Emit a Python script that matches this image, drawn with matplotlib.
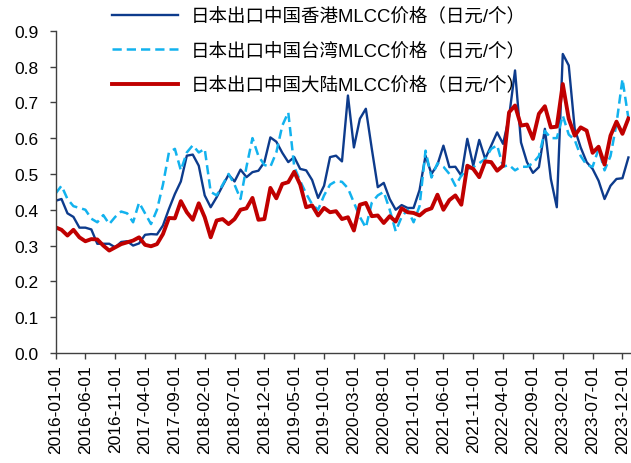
import numpy as np
import pandas as pd
import matplotlib
matplotlib.use('Agg')
import matplotlib.pyplot as plt

plt.rcParams['font.family'] = ['Liberation Sans', 'Noto Sans CJK SC', 'DejaVu Sans']

# monthly series, 2016-01 .. 2024-01 (JPY per piece)
months = pd.date_range('2016-01-01', '2024-01-01', freq='MS')

hk_price = [
    0.425, 0.430, 0.390, 0.380, 0.350, 0.350, 0.345, 0.305, 0.305, 0.305,
    0.295, 0.310, 0.312, 0.300, 0.306, 0.330, 0.332, 0.331, 0.356, 0.402,
    0.444, 0.479, 0.551, 0.554, 0.523, 0.440, 0.407, 0.435, 0.467, 0.498,
    0.479, 0.512, 0.491, 0.505, 0.509, 0.533, 0.602, 0.590, 0.559, 0.533,
    0.547, 0.514, 0.510, 0.483, 0.433, 0.467, 0.547, 0.551, 0.535, 0.719,
    0.574, 0.654, 0.682, 0.570, 0.463, 0.475, 0.430, 0.400, 0.413, 0.405,
    0.405, 0.455, 0.551, 0.500, 0.526, 0.579, 0.519, 0.520, 0.495, 0.598,
    0.523, 0.595, 0.542, 0.579, 0.616, 0.584, 0.660, 0.789, 0.588, 0.533,
    0.503, 0.519, 0.626, 0.486, 0.407, 0.835, 0.803, 0.626, 0.574, 0.533,
    0.514, 0.481, 0.430, 0.467, 0.486, 0.488, 0.546,
]

tw_price = [
    0.445, 0.467, 0.430, 0.410, 0.405, 0.400, 0.375, 0.365, 0.385, 0.360,
    0.380, 0.395, 0.390, 0.365, 0.420, 0.390, 0.360, 0.400, 0.470, 0.560,
    0.570, 0.510, 0.560, 0.580, 0.560, 0.570, 0.450, 0.440, 0.470, 0.500,
    0.470, 0.430, 0.520, 0.600, 0.550, 0.525, 0.520, 0.560, 0.635, 0.672,
    0.520, 0.480, 0.445, 0.415, 0.400, 0.440, 0.470, 0.480, 0.478, 0.460,
    0.420, 0.380, 0.350, 0.420, 0.440, 0.450, 0.400, 0.340, 0.380, 0.400,
    0.365, 0.410, 0.565, 0.490, 0.530, 0.520, 0.500, 0.467, 0.495, 0.514,
    0.519, 0.530, 0.542, 0.570, 0.580, 0.520, 0.525, 0.510, 0.520, 0.520,
    0.530, 0.550, 0.620, 0.600, 0.600, 0.663, 0.610, 0.595, 0.550, 0.525,
    0.520, 0.570, 0.510, 0.550, 0.640, 0.765, 0.655,
]

cn_price = [
    0.351, 0.344, 0.328, 0.344, 0.323, 0.312, 0.318, 0.317, 0.300, 0.286,
    0.295, 0.304, 0.309, 0.314, 0.323, 0.302, 0.298, 0.304, 0.332, 0.377,
    0.376, 0.424, 0.393, 0.372, 0.418, 0.379, 0.323, 0.370, 0.374, 0.360,
    0.374, 0.400, 0.404, 0.433, 0.372, 0.374, 0.461, 0.432, 0.472, 0.477,
    0.506, 0.470, 0.407, 0.412, 0.384, 0.405, 0.393, 0.396, 0.374, 0.379,
    0.342, 0.414, 0.419, 0.382, 0.384, 0.363, 0.382, 0.367, 0.404, 0.393,
    0.391, 0.384, 0.398, 0.404, 0.442, 0.400, 0.427, 0.440, 0.414, 0.523,
    0.514, 0.491, 0.535, 0.533, 0.509, 0.523, 0.672, 0.691, 0.635, 0.638,
    0.598, 0.668, 0.689, 0.630, 0.632, 0.751, 0.654, 0.607, 0.630, 0.621,
    0.559, 0.576, 0.526, 0.607, 0.646, 0.612, 0.655,
]

labels = ['日本出口中国香港MLCC价格（日元/个）',
          '日本出口中国台湾MLCC价格（日元/个）',
          '日本出口中国大陆MLCC价格（日元/个）']

x = np.arange(len(months))

fig = plt.figure(figsize=(6.31, 4.64), dpi=100)
ax = fig.add_axes([0.088, 0.2371, 0.9098, 0.6946])

ax.plot(x, hk_price, color='#0D3B8C', lw=1.7, label=labels[0])
ax.plot(x, tw_price, color='#12B2EE', lw=1.8, dashes=(3.7, 2.0), label=labels[1])
ax.plot(x, cn_price, color='#C00000', lw=2.8, label=labels[2])

ax.set_xlim(0, 96.2)
ax.set_ylim(0, 0.9)
ax.set_yticks(np.arange(0, 0.91, 0.1))
ax.set_yticklabels([f'{v:.1f}' for v in np.arange(0, 0.91, 0.1)])
tick_idx = list(range(0, len(months), 5))
ax.set_xticks(tick_idx)
ax.set_xticklabels([months[i].strftime('%Y-%m-%d') for i in tick_idx], rotation=90)

for side in ['top', 'right']:
    ax.spines[side].set_visible(False)
for side in ['left', 'bottom']:
    ax.spines[side].set_color('#404040')
    ax.spines[side].set_linewidth(1.0)
ax.tick_params(axis='both', direction='out', length=4, width=1.0, color='#404040',
               labelsize=12.5, labelcolor='black')
ax.tick_params(axis='y', pad=8)
ax.tick_params(axis='x', pad=4)

leg = fig.legend(loc='upper left', bbox_to_anchor=(0.177, 0.982), frameon=False,
                 prop={'size': 13.3}, handlelength=3.6, handletextpad=0.7,
                 labelspacing=0.92, borderpad=0, borderaxespad=0)

fig.savefig('out.png', dpi=100)
